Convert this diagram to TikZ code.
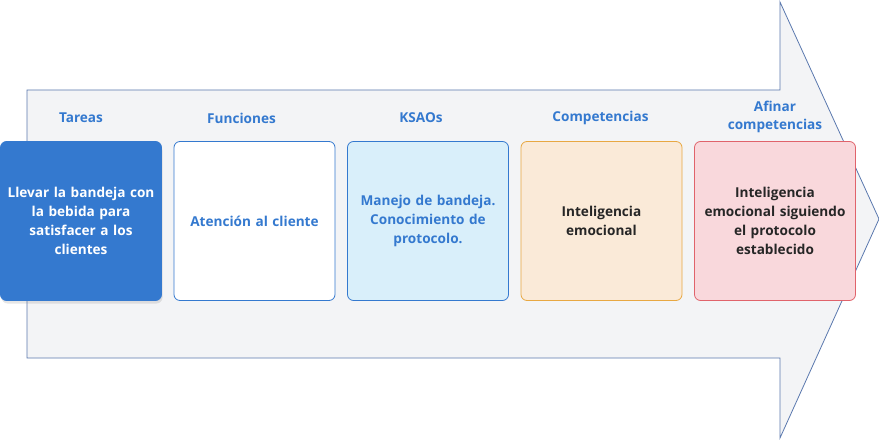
\documentclass[tikz,border=0pt]{standalone}
\usepackage{fontspec}
\setmainfont{Open Sans}
\usetikzlibrary{positioning, shadows}

\definecolor{azul}{HTML}{3479CF}
\definecolor{flecha}{HTML}{F3F4F6}
\definecolor{bordeflecha}{HTML}{5A78AE}
\definecolor{celeste}{HTML}{D9EFFA}
\definecolor{crema}{HTML}{FAEAD8}
\definecolor{naranja}{HTML}{E8A842}
\definecolor{rosa}{HTML}{F9D8DC}
\definecolor{rojo}{HTML}{E0636B}

\begin{document}
\begin{tikzpicture}[
        x=1pt, y=1pt,
        node distance=11.7pt,
        box/.style={draw, rounded corners=6pt, line width=0.8pt, minimum width=161pt, minimum height=159pt, text width=148pt, align=center, font=\fontsize{13.6}{19}\selectfont\bfseries},
        title/.style={text=azul, align=center, inner sep=0pt, font=\fontsize{13.6}{18}\selectfont\bfseries}
    ]
    \useasboundingbox (0,0) rectangle (879,440);

    % Big arrow
    \draw[fill=flecha, draw=bordeflecha, line width=0.8pt]
        (27,82) -- (27,350) -- (780,350) -- (780,438) -- (879,221) -- (780,2) -- (780,82) -- cycle;

    % Nodes
    \node [box, fill=azul, draw=azul, text=white, drop shadow={opacity=0.2, shadow xshift=1pt, shadow yshift=-3pt}] (tareas) at (81,219) {Llevar la bandeja con\\ la bebida para\\ satisfacer a los\\ clientes};
    \node [box, fill=white, draw=azul, text=azul] (funciones) [right=of tareas] {Atención al cliente};
    \node [box, fill=celeste, draw=azul, text=azul] (ksaos) [right=of funciones] {Manejo de bandeja.\\ Conocimiento de\\ protocolo.};
    \node [box, fill=crema, draw=naranja, text=black!85] (compet) [right=of ksaos] {Inteligencia\\ emocional};
    \node [box, fill=rosa, draw=rojo, text=black!85] (afinar) [right=of compet] {Inteligencia\\ emocional siguiendo\\ el protocolo\\ establecido};

    % Titles
    \node [title] (t1) at ([yshift=23pt]tareas.north) {Tareas};
    \node [title] (t2) at ([xshift=-13pt, yshift=23pt]funciones.north) {Funciones};
    \node [title] (t3) at ([xshift=-7pt, yshift=23pt]ksaos.north) {KSAOs};
    \node [title] (t4) at ([xshift=-1pt, yshift=23pt]compet.north) {Competencias};
    \node [title] (t5) at ([yshift=24pt]afinar.north) {Afinar\\ competencias};

\end{tikzpicture}
\end{document}
